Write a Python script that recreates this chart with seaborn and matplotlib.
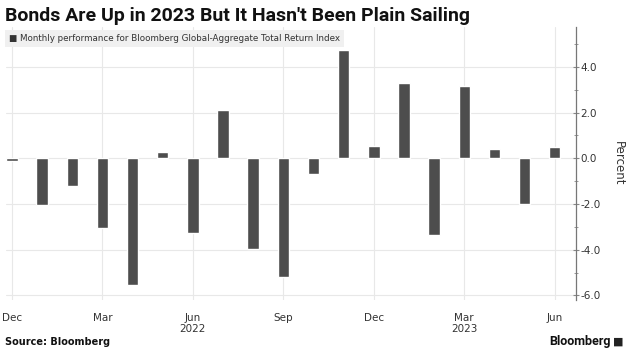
import pandas as pd
import numpy as np
import seaborn as sns
import matplotlib.pyplot as plt

months = ["2021-12", "2022-01", "2022-02", "2022-03", "2022-04", "2022-05",
          "2022-06", "2022-07", "2022-08", "2022-09", "2022-10", "2022-11",
          "2022-12", "2023-01", "2023-02", "2023-03", "2023-04", "2023-05",
          "2023-06"]
returns = [-0.13, -2.06, -1.2, -3.07, -5.53, 0.26, -3.26, 2.13, -3.99, -5.18,
           -0.70, 4.73, 0.54, 3.28, -3.36, 3.18, 0.42, -1.99, 0.51]
tick_labels = ["Dec", "Mar", "Jun\n2022", "Sep", "Dec", "Mar\n2023", "Jun"]

df = pd.DataFrame({"month": months, "ret": returns})

sns.set_style("white")
plt.rcParams['font.family'] = ['DejaVu Sans']

fig = plt.figure(figsize=(6.29, 3.58), dpi=100)
ax = fig.add_axes([0.0095, 0.162, 0.906, 0.763])

sns.barplot(data=df, x="month", y="ret", color="#4d4d4d", width=0.38,
            saturation=1, ax=ax, order=months)

ax.set_xlim(-0.2, 18.7)
ax.set_ylim(-6.2, 5.75)
ax.set_xticks(range(0, 19, 3))
ax.set_xticklabels(tick_labels, fontsize=7.5, color="#333333")
ax.set_yticks(np.arange(-6, 5, 2))
ax.set_yticks(np.arange(-5, 6, 1), minor=True)
ax.set_yticklabels([f"{v:.1f}" for v in np.arange(-6, 5, 2)], fontsize=7.5,
                   color="#333333")
ax.yaxis.tick_right()
ax.yaxis.set_label_position("right")
ax.set_ylabel("Percent", rotation=270, labelpad=18, fontsize=8.5,
              color="#333333")
ax.set_xlabel("")
ax.tick_params(axis="y", which="major", length=4, color="#888888", pad=1,
               direction="inout")
ax.tick_params(axis="y", which="minor", length=2.5, color="#888888",
               direction="inout", right=True)
ax.tick_params(axis="x", length=0, pad=9)

ax.grid(True, which="major", color="#e8e8e8", linewidth=0.8)
ax.set_axisbelow(True)
for s in ["top", "left", "bottom"]:
    ax.spines[s].set_visible(False)
ax.spines["right"].set_color("#777777")
ax.spines["right"].set_linewidth(0.9)

fig.text(0.008, 0.94, "Bonds Are Up in 2023 But It Hasn't Been Plain Sailing",
         fontsize=14, fontweight="bold", color="#111111", family="Roboto")
ax.text(0.005, 0.975, "\u25a0 Monthly performance for Bloomberg Global-Aggregate Total Return Index",
        transform=ax.transAxes, fontsize=6.3, color="#333333", va="top",
        bbox=dict(boxstyle="square,pad=0.45", fc="#f0f0f0", ec="none"))
fig.text(0.008, 0.035, "Source: Bloomberg", fontsize=7, fontweight="bold",
         color="#111111")
fig.text(0.97, 0.035, "Bloomberg", fontsize=9, fontweight="bold",
         color="#111111", ha="right", family="Roboto")
fig.text(0.974, 0.037, "\u25a0", fontsize=8, color="#222222")

plt.savefig("out.png", dpi=100)
